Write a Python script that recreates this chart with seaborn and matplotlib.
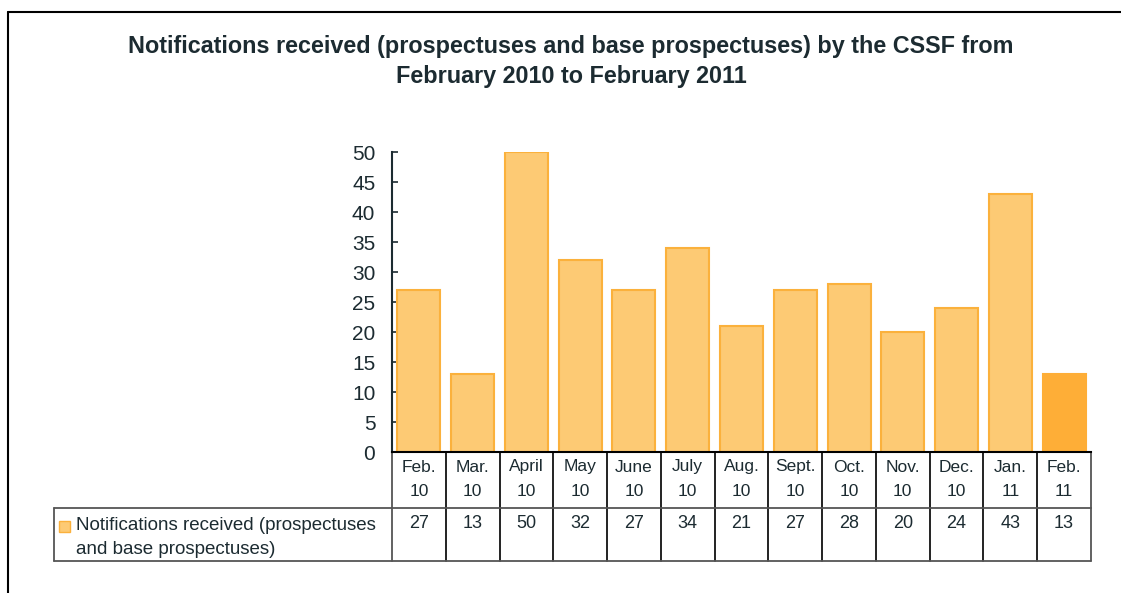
import matplotlib
matplotlib.use("Agg")
import matplotlib.pyplot as plt
import seaborn as sns
from matplotlib.lines import Line2D
from matplotlib.patches import Rectangle
import matplotlib.transforms as mtransforms

# %% data
months = ["Feb.", "Mar.", "April", "May", "June", "July", "Aug.", "Sept.", "Oct.", "Nov.", "Dec.", "Jan.", "Feb."]
years = ["10", "10", "10", "10", "10", "10", "10", "10", "10", "10", "10", "11", "11"]
notifications = [27, 13, 50, 32, 27, 34, 21, 27, 28, 20, 24, 43, 13]
series_lines = ["Notifications received (prospectuses", "and base prospectuses)"]
title_lines = ["Notifications received (prospectuses and base prospectuses) by the CSSF from",
               "February 2010 to February 2011"]

# %% style
sns.set_theme(style="white")
plt.rcParams["font.family"] = ["Liberation Sans", "DejaVu Sans"]
text_col = "#1c2b31"
fill_light = "#fdca74"
edge_light = "#fbb13c"
fill_last = "#feae37"

cats = [f"{m}\n{y}" for m, y in zip(months, years)]
colors = [fill_light] * (len(cats) - 1) + [fill_last]

fig = plt.figure(figsize=(11.21, 5.93), dpi=100)
W, H = 1121, 593
ax = fig.add_axes([392 / W, 1 - 452 / H, (1091 - 392) / W, 300 / H])

sns.barplot(x=cats, y=notifications, hue=cats, palette=colors, legend=False,
            width=0.8, ax=ax, saturation=1)
for i, p in enumerate(ax.patches):
    p.set_edgecolor(edge_light if i < len(cats) - 1 else fill_last)
    p.set_linewidth(1.5)

ax.set_ylim(0, 50)
ax.set_xlim(-0.5, len(cats) - 0.5)
ax.set_yticks(range(0, 51, 5))
ax.tick_params(axis="y", direction="in", length=4.5, width=1.2, color=text_col,
               labelsize=15, labelcolor=text_col, pad=12, left=True)
ax.set_xticks([])
for s in ["top", "right"]:
    ax.spines[s].set_visible(False)
ax.spines["left"].set_color(text_col)
ax.spines["left"].set_linewidth(1.5)
ax.spines["bottom"].set_color("black")
ax.spines["bottom"].set_linewidth(1.5)

# %% data table under the axes
trans = mtransforms.blended_transform_factory(ax.transData, fig.transFigure)
def fy(py):
    return 1 - py / H

grid_dark = "#111111"
grid_gray = "#555555"
n = len(cats)
for i in range(n + 1):
    xb = i - 0.5
    col = grid_dark if 0 < i < n else grid_gray
    ax.add_line(Line2D([xb, xb], [fy(452), fy(508)], transform=trans, color=col, lw=1.3, clip_on=False))
    ax.add_line(Line2D([xb, xb], [fy(508), fy(561)], transform=trans, color=col, lw=1.3, clip_on=False))
for i, (m, y, v) in enumerate(zip(months, years, notifications)):
    ax.text(i, fy(467), m, transform=trans, ha="center", va="center", fontsize=12.5, color=text_col)
    ax.text(i, fy(492), y, transform=trans, ha="center", va="center", fontsize=12.5, color=text_col)
    ax.text(i, fy(524), str(v), transform=trans, ha="center", va="center", fontsize=13, color=text_col)

fig.add_artist(Line2D([54 / W, 1091 / W], [fy(508), fy(508)], color=grid_gray, lw=1.3))
fig.add_artist(Line2D([54 / W, 1091 / W], [fy(561), fy(561)], color=grid_gray, lw=1.3))
fig.add_artist(Line2D([54 / W, 54 / W], [fy(508), fy(561)], color=grid_gray, lw=1.3))
fig.add_artist(Rectangle((59 / W, fy(532)), 11 / W, 11 / H, facecolor=fill_light,
                         edgecolor=edge_light, lw=1, transform=fig.transFigure))
fig.text(76 / W, fy(525), series_lines[0], ha="left", va="center", fontsize=13.5, color=text_col)
fig.text(76 / W, fy(549), series_lines[1], ha="left", va="center", fontsize=13.5, color=text_col)

# %% title and outer frame
fig.text(571 / W, fy(46), title_lines[0], ha="center", va="center",
         fontsize=16.8, fontweight="bold", color=text_col)
fig.text(571 / W, fy(77), title_lines[1], ha="center", va="center",
         fontsize=16.8, fontweight="bold", color=text_col)
fig.add_artist(Line2D([8 / W, 1], [fy(12), fy(12)], color="black", lw=1.5))
fig.add_artist(Line2D([8 / W, 8 / W], [fy(12), 0], color="black", lw=1.5))

fig.savefig("out.png", dpi=100, facecolor="white")
